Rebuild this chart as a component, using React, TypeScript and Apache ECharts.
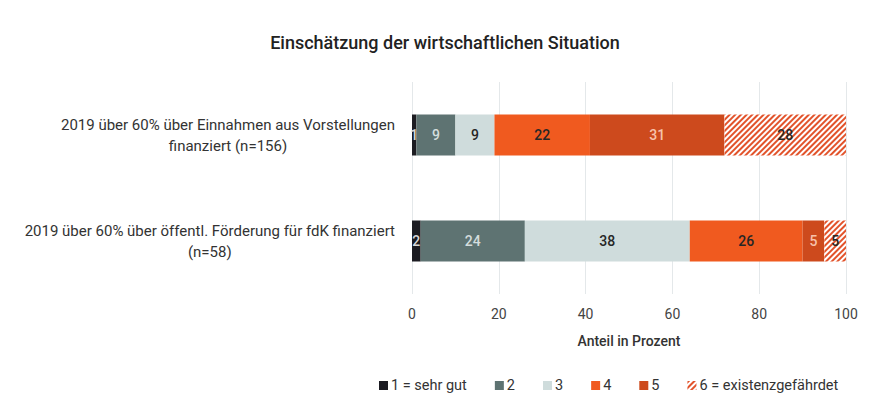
import React, { useEffect, useRef } from "react";
import * as echarts from "echarts";

const categories = [
  "2019 über 60% über Einnahmen aus Vorstellungen\nfinanziert (n=156)",
  "2019 über 60% über öffentl. Förderung für fdK finanziert\n(n=58)",
];
const seriesNames = ["1 = sehr gut", "2", "3", "4", "5", "6 = existenzgefährdet"];
const s1 = [1, 2];
const s2 = [9, 24];
const s3 = [9, 38];
const s4 = [22, 26];
const s5 = [31, 5];
const s6 = [28, 5];
const xTicks = [0, 20, 40, 60, 80, 100];

const FONT = "Roboto";

export default function App() {
  const ref = useRef<HTMLDivElement>(null);
  useEffect(() => {
    if (!ref.current) return;
    const chart = echarts.init(ref.current, undefined, { renderer: "svg" });
    const values = [s1, s2, s3, s4, s5, s6];
    const colors = ["#1c1c22", "#5e7372", "#cfdcdc", "#f05a1f", "#cd4a1d", "#ffffff"];
    const labelColors = ["#d8d8d8", "#d4dddd", "#262626", "#262626", "#f7c2ab", "#262626"];
    const series = values.map((v, i) => ({
      name: seriesNames[i],
      type: "bar",
      stack: "total",
      barWidth: 41,
      data: v,
      itemStyle: i === 5
        ? {
            color: "#ffffff",
            decal: {
              symbol: "rect",
              symbolSize: 1,
              dashArrayX: [1, 0],
              dashArrayY: [2, 2],
              rotation: -Math.PI / 4,
              color: "#e2532b",
            },
          }
        : { color: colors[i] },
      label: {
        show: true,
        position: "inside",
        color: labelColors[i],
        fontFamily: FONT,
        fontSize: 14,
        fontWeight: 500,
      },
    }));
    chart.setOption({
      animation: false,
      backgroundColor: "#ffffff",
      textStyle: { fontFamily: FONT },
      title: {
        text: "Einschätzung der wirtschaftlichen Situation",
        left: 440,
        textAlign: "center",
        top: 28,
        textStyle: { fontFamily: FONT, fontSize: 18, fontWeight: 500, color: "#222" },
      },
      legend: {
        left: 374,
        top: 373,
        itemWidth: 9,
        itemHeight: 9,
        itemGap: 28,
        icon: "rect",
        textStyle: { fontFamily: FONT, fontSize: 14.5, color: "#333", padding: [0, 0, 0, -2] },
        data: seriesNames,
      },
      grid: { left: 412, right: 24, top: 82, bottom: 111 },
      xAxis: {
        type: "value",
        min: 0,
        max: 100,
        interval: 20,
        name: "Anteil in Prozent",
        nameLocation: "middle",
        nameGap: 40,
        nameTextStyle: { fontFamily: FONT, fontSize: 14, fontWeight: 500, color: "#333" },
        axisLine: { show: false },
        axisTick: { show: false },
        axisLabel: {
          margin: 13,
          fontFamily: FONT,
          fontSize: 14,
          color: "#444",
          formatter: (v: number) => (xTicks.includes(v) ? String(v) : ""),
        },
        splitLine: { show: true, lineStyle: { color: "#e4e8ea", width: 1 } },
      },
      yAxis: {
        type: "category",
        inverse: true,
        data: categories,
        axisLine: { show: false },
        axisTick: { show: false },
        axisLabel: {
          margin: 17,
          align: "right",
          formatter: (v: string) =>
            v
              .split("\n")
              .map((l) => "{c|" + l + "}")
              .join("\n"),
          rich: {
            c: { align: "center", fontFamily: FONT, fontSize: 15, color: "#333", lineHeight: 21 },
          },
        },
      },
      series,
    });
    return () => chart.dispose();
  }, []);
  return (
    <div
      ref={ref}
      style={{ position: "fixed", left: 0, top: 0, width: 870, height: 405 }}
    />
  );
}
